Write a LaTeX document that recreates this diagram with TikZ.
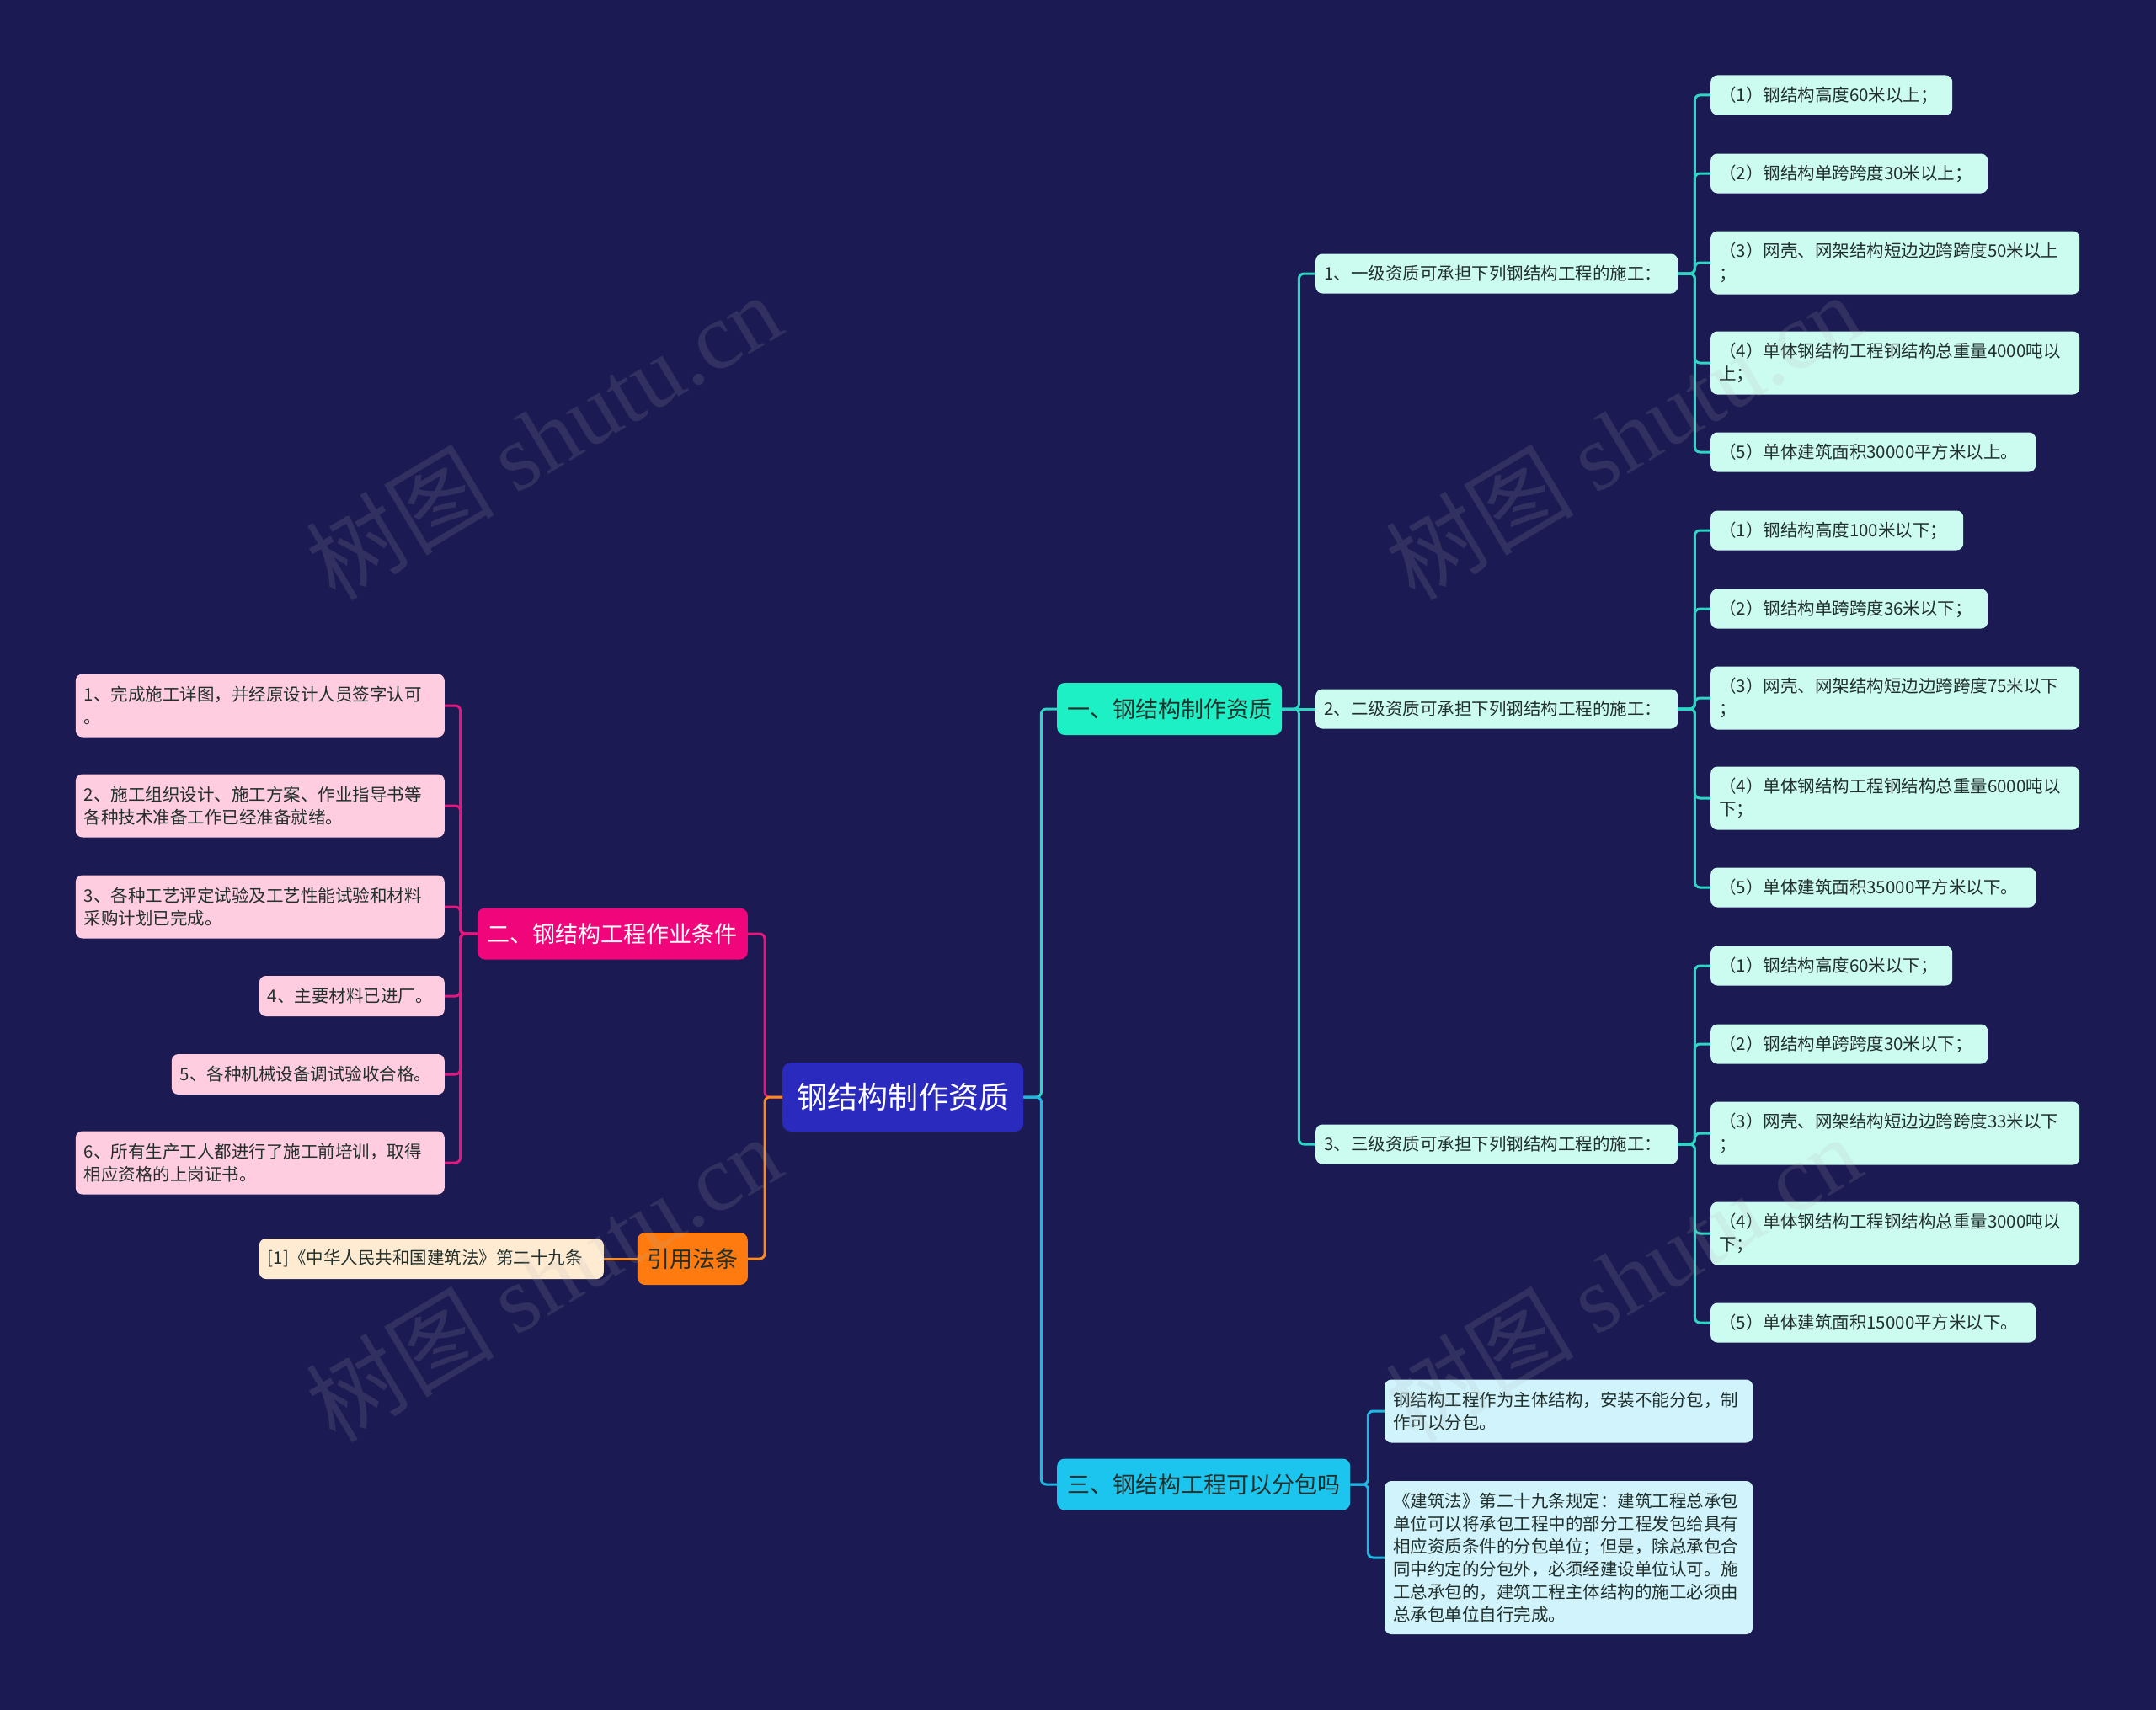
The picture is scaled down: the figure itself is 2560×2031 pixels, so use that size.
\documentclass[tikz,border=0pt]{standalone}
\usepackage{fontspec}
\setmainfont{Noto Sans CJK SC}
\newfontfamily\wmserif{Liberation Serif}
\definecolor{bg}{HTML}{1B1A52}
\definecolor{rootfill}{HTML}{2A2ABF}
\definecolor{afill}{HTML}{1DF0C4}
\definecolor{mint}{HTML}{CCFBF0}
\definecolor{cfill}{HTML}{1BC5EE}
\definecolor{cyanl}{HTML}{D0F3FC}
\definecolor{bfill}{HTML}{F0057B}
\definecolor{pinkl}{HTML}{FFCCE0}
\definecolor{dfill}{HTML}{FF7B0F}
\definecolor{peach}{HTML}{FFEBD2}
\definecolor{lna}{HTML}{2ED6C4}
\definecolor{lnc}{HTML}{1EB9E3}
\definecolor{lnb}{HTML}{E3177E}
\definecolor{lnd}{HTML}{FA8A20}
\definecolor{txt}{HTML}{22302D}
\begin{document}
\begin{tikzpicture}[x=1pt,y=-1pt,
  box/.style={rounded corners=8pt, inner xsep=10pt, inner ysep=0pt, align=left,
    font=\fontsize{20.5}{27}\selectfont, text=txt},
  leafa/.style={box, fill=mint, anchor=west},
  leafc/.style={box, fill=cyanl, anchor=west},
  leafb/.style={box, fill=pinkl, anchor=east},
  leafd/.style={box, fill=peach, anchor=east},
  mainbox/.style={rounded corners=9pt, inner xsep=10pt, inner ysep=0pt, align=center,
    font=\fontsize{27}{32}\selectfont},
  conn/.style={line width=3pt, rounded corners=6pt},
  wm/.style={rotate=31, text=gray!60, text opacity=0.15, font=\fontsize{112}{112}\selectfont}
]
\fill[bg] (0,0) rectangle (2560,2031);
\useasboundingbox (0,0) rectangle (2560,2031);

% root
\node[rounded corners=10pt, fill=rootfill, text=white, align=center, inner xsep=10pt, inner ysep=0pt,
  font=\fontsize{36}{40}\selectfont, text width=266pt, minimum height=82pt, anchor=west]
  (root) at (929,1303) {钢结构制作资质};

% main branches
\node[mainbox, fill=afill, text=txt, text width=247pt, minimum height=62pt, anchor=west] (A) at (1255,842) {一、钢结构制作资质};
\node[mainbox, fill=cfill, text=txt, text width=328pt, minimum height=61pt, anchor=west] (C) at (1255,1763) {三、钢结构工程可以分包吗};
\node[mainbox, fill=bfill, text=white, text width=301pt, minimum height=61pt, anchor=east] (B) at (888,1109) {二、钢结构工程作业条件};
\node[mainbox, fill=dfill, text=txt, text width=111pt, minimum height=62pt, anchor=east] (D) at (888,1495) {引用法条};

% level 2 under A
\node[leafa, text width=410pt, minimum height=47pt] (a1) at (1562,325) {1、一级资质可承担下列钢结构工程的施工：};
\node[leafa, text width=410pt, minimum height=47pt] (a2) at (1562,842) {2、二级资质可承担下列钢结构工程的施工：};
\node[leafa, text width=410pt, minimum height=47pt] (a3) at (1562,1359) {3、三级资质可承担下列钢结构工程的施工：};

% group 1
\node[leafa, text width=267pt, minimum height=47pt] (a11) at (2031,113) {（1）钢结构高度60米以上；};
\node[leafa, text width=309pt, minimum height=47pt] (a12) at (2031,206) {（2）钢结构单跨跨度30米以上；};
\node[leafa, text width=418pt, minimum height=75pt] (a13) at (2031,312) {（3）网壳、网架结构短边边跨跨度50米以上\\；};
\node[leafa, text width=418pt, minimum height=75pt] (a14) at (2031,431) {（4）单体钢结构工程钢结构总重量4000吨以\\上；};
\node[leafa, text width=366pt, minimum height=47pt] (a15) at (2031,537) {（5）单体建筑面积30000平方米以上。};
% group 2
\node[leafa, text width=280pt, minimum height=47pt] (a21) at (2031,630) {（1）钢结构高度100米以下；};
\node[leafa, text width=309pt, minimum height=47pt] (a22) at (2031,723) {（2）钢结构单跨跨度36米以下；};
\node[leafa, text width=418pt, minimum height=75pt] (a23) at (2031,829) {（3）网壳、网架结构短边边跨跨度75米以下\\；};
\node[leafa, text width=418pt, minimum height=75pt] (a24) at (2031,948) {（4）单体钢结构工程钢结构总重量6000吨以\\下；};
\node[leafa, text width=366pt, minimum height=47pt] (a25) at (2031,1054) {（5）单体建筑面积35000平方米以下。};
% group 3
\node[leafa, text width=267pt, minimum height=47pt] (a31) at (2031,1147) {（1）钢结构高度60米以下；};
\node[leafa, text width=309pt, minimum height=47pt] (a32) at (2031,1240) {（2）钢结构单跨跨度30米以下；};
\node[leafa, text width=418pt, minimum height=75pt] (a33) at (2031,1346) {（3）网壳、网架结构短边边跨跨度33米以下\\；};
\node[leafa, text width=418pt, minimum height=75pt] (a34) at (2031,1465) {（4）单体钢结构工程钢结构总重量3000吨以\\下；};
\node[leafa, text width=366pt, minimum height=47pt] (a35) at (2031,1571) {（5）单体建筑面积15000平方米以下。};

% C children
\node[leafc, text width=417pt, minimum height=75pt] (c1) at (1644,1676) {钢结构工程作为主体结构，安装不能分包，制\\作可以分包。};
\node[leafc, text width=417pt, minimum height=182pt] (c2) at (1644,1850) {《建筑法》第二十九条规定：建筑工程总承包\\单位可以将承包工程中的部分工程发包给具有\\相应资质条件的分包单位；但是，除总承包合\\同中约定的分包外，必须经建设单位认可。施\\工总承包的，建筑工程主体结构的施工必须由\\总承包单位自行完成。};

% B children
\node[leafb, text width=418pt, minimum height=75pt] (b1) at (528,838) {1、完成施工详图，并经原设计人员签字认可\\。};
\node[leafb, text width=418pt, minimum height=75pt] (b2) at (528,957) {2、施工组织设计、施工方案、作业指导书等\\各种技术准备工作已经准备就绪。};
\node[leafb, text width=418pt, minimum height=75pt] (b3) at (528,1077) {3、各种工艺评定试验及工艺性能试验和材料\\采购计划已完成。};
\node[leafb, text width=200pt, minimum height=48pt] (b4) at (528,1183) {4、主要材料已进厂。};
\node[leafb, text width=304pt, minimum height=48pt] (b5) at (528,1276) {5、各种机械设备调试验收合格。};
\node[leafb, text width=418pt, minimum height=75pt] (b6) at (528,1381) {6、所有生产工人都进行了施工前培训，取得\\相应资格的上岗证书。};

% D child
\node[leafd, text width=389pt, minimum height=48pt] (d1) at (717,1495) {[1]《中华人民共和国建筑法》第二十九条};

% connectors
\draw[conn, lna] (root.east) -- ++(21,0) |- (A.west);
\draw[conn, lnc] (root.east) -- ++(21,0) |- (C.west);
\draw[conn, lnb] (root.west) -- ++(-21,0) |- (B.east);
\draw[conn, lnd] (root.west) -- ++(-21,0) |- (D.east);

\draw[conn, lna] (A.east) -- ++(20,0) |- (a1.west);
\draw[conn, lna] (A.east) -- (a2.west);
\draw[conn, lna] (A.east) -- ++(20,0) |- (a3.west);

\foreach \p in {1,2,3}{
  \foreach \q in {1,...,5}{
    \draw[conn, lna] (a\p.east) -- ++(20,0) |- (a\p\q.west);
  }
}

\draw[conn, lnc] (C.east) -- ++(21,0) |- (c1.west);
\draw[conn, lnc] (C.east) -- ++(21,0) |- (c2.west);

\foreach \q in {1,...,6}{
  \draw[conn, lnb] (B.west) -- ++(-20,0) |- (b\q.east);
}
\draw[conn, lnd] (D.west) -- (d1.east);

% watermarks
\node[wm] (w1) at (645,518) {树图 {\wmserif shutu.cn}};
\node[wm] (w2) at (1927,518) {树图 {\wmserif shutu.cn}};
\node[wm] (w3) at (645,1518) {树图 {\wmserif shutu.cn}};
\node[wm] (w4) at (1927,1518) {树图 {\wmserif shutu.cn}};
\end{tikzpicture}
\end{document}
